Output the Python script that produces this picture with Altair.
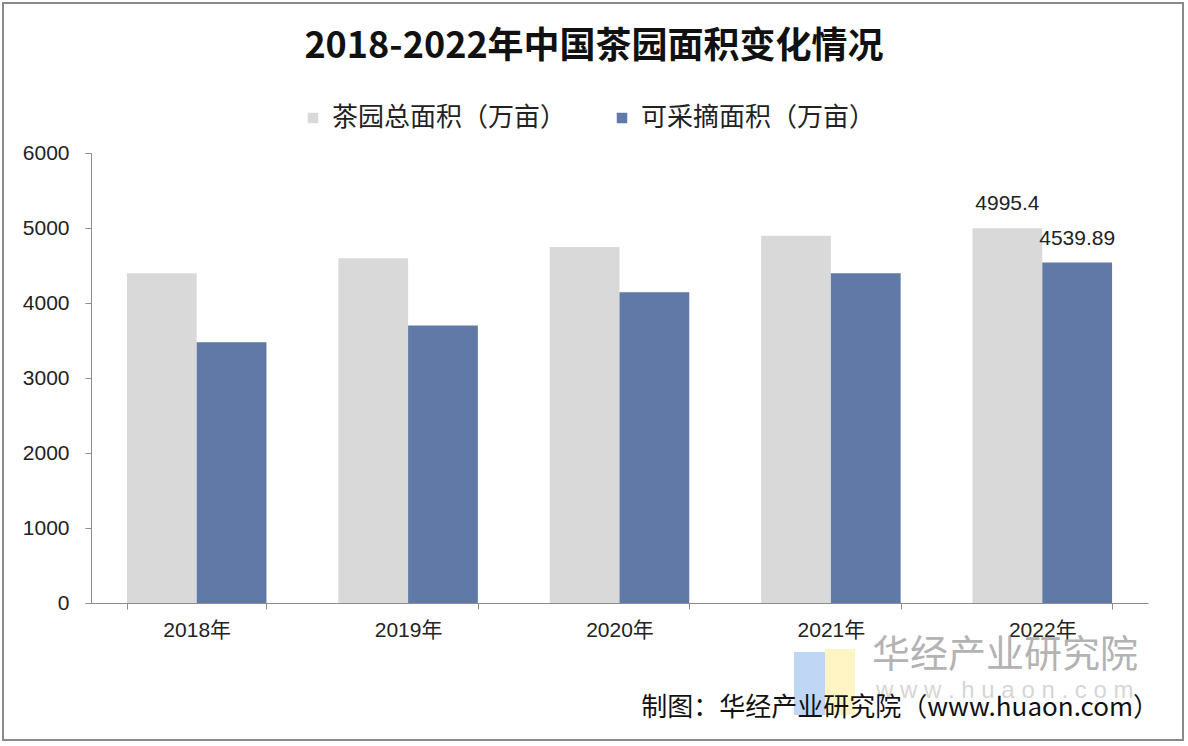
import altair as alt
import pandas as pd

years = ["2018年", "2019年", "2020年", "2021年", "2022年"]
series = ["茶园总面积（万亩）", "可采摘面积（万亩）"]
total_area = [4395.6, 4597.87, 4747.69, 4896.09, 4995.4]
picking_area = [3478.0, 3699.0, 4144.0, 4397.0, 4539.89]
labels_2022 = ["4995.4", "4539.89"]

rows = []
for i, y in enumerate(years):
    rows.append({"year": y, "series": series[0], "value": total_area[i], "label": labels_2022[0] if y == "2022年" else ""})
    rows.append({"year": y, "series": series[1], "value": picking_area[i], "label": labels_2022[1] if y == "2022年" else ""})
df = pd.DataFrame(rows)

FONT = "Liberation Sans, Noto Sans CJK SC, sans-serif"
CJK = "Noto Sans CJK SC, sans-serif"

x = alt.X("year:N", sort=years, title=None,
          scale=alt.Scale(paddingInner=0.34, paddingOuter=0.17),
          axis=alt.Axis(labelAngle=0, labelFontSize=21, labelColor="#222222", labelFont=FONT,
                        labelPadding=10, tickBand="extent", tickSize=6,
                        domainColor="#8c8c8c", tickColor="#8c8c8c"))
xoff = alt.XOffset("series:N", sort=series, scale=alt.Scale(paddingInner=0))
y = alt.Y("value:Q", title=None,
          scale=alt.Scale(domain=[0, 6000], nice=False),
          axis=alt.Axis(values=[0, 1000, 2000, 3000, 4000, 5000, 6000], grid=False, format="d",
                        labelFontSize=21, labelColor="#222222", labelFont=FONT,
                        labelPadding=16, tickSize=6, domainColor="#8c8c8c", tickColor="#8c8c8c"))
color = alt.Color("series:N", sort=series, title=None,
                  scale=alt.Scale(domain=series, range=["#d9d9d9", "#6079a6"]),
                  legend=alt.Legend(orient="none", legendX=209, legendY=-48, direction="horizontal",
                                    symbolType="square", symbolSize=110, symbolStrokeWidth=0,
                                    labelFontSize=26, labelFont=CJK, labelColor="#222222",
                                    labelLimit=0, columnPadding=42, labelOffset=6))

bars = alt.Chart(df).mark_bar().encode(x=x, xOffset=xoff, y=y, color=color)

text = alt.Chart(df).transform_filter(alt.datum.label != "").mark_text(
    fontSize=21, font=FONT, color="#222222", baseline="bottom", dy=-14
).encode(x=x, xOffset=xoff, y=y, text="label:N")

def single():
    return alt.Chart(df).transform_filter(alt.datum.series == series[0]).transform_filter(
        alt.datum.year == years[0])

title = single().mark_text(
    text="2018-2022年中国茶园面积变化情况", fontSize=36, fontWeight="bold", font=CJK,
    color="#111111", align="center", baseline="middle"
).encode(x=alt.value(503), y=alt.value(-106))

logo_b = single().mark_rect(color="#a9c9f2", opacity=0.75).encode(
    x=alt.value(703), x2=alt.value(734), y=alt.value(499), y2=alt.value(562))
logo_y = single().mark_rect(color="#fdf0b0", opacity=0.75).encode(
    x=alt.value(734), x2=alt.value(764), y=alt.value(496), y2=alt.value(562))
wm1 = single().mark_text(
    text="华经产业研究院", fontSize=38, font=CJK, color="#9a9a9a", opacity=0.75,
    align="left", baseline="middle").encode(x=alt.value(781), y=alt.value(503))
wm2 = single().mark_text(
    text="w w w . h u a o n . c o m", fontSize=24, font=FONT, color="#bbbbbb", opacity=0.6,
    align="left", baseline="middle").encode(x=alt.value(785), y=alt.value(538))

footer = single().mark_text(
    text="制图：华经产业研究院（www.huaon.com）", fontSize=26, font=CJK, color="#111111",
    align="right", baseline="middle").encode(x=alt.value(1068), y=alt.value(555))

border = single().mark_rect(fill="white", fillOpacity=0, stroke="#8a8a8a", strokeWidth=2).encode(
    x=alt.value(-88), x2=alt.value(1092), y=alt.value(-150), y2=alt.value(587))

chart = alt.layer(border, bars, text, title, logo_b, logo_y, wm1, wm2, footer).properties(
    width=1057, height=450,
    autosize=alt.AutoSizeParams(type="none"),
    padding={"left": 91, "top": 153, "right": 40, "bottom": 143},
    background="white",
).configure_view(stroke=None)

chart.save("out.html", embed_options={"renderer": "svg", "actions": False})
